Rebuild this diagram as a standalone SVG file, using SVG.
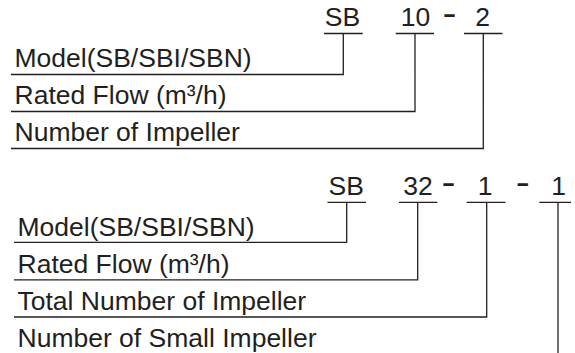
<svg xmlns="http://www.w3.org/2000/svg" width="575" height="353" viewBox="0 0 575 353">
<style>
text{font-family:"Liberation Sans",Arial,sans-serif;font-size:26.5px;fill:#231f20}
.c{text-anchor:middle}
.d{font-weight:bold;font-size:22px;text-anchor:middle}
.ln{stroke:#231f20;stroke-width:1.3;fill:none}
</style>
<rect width="575" height="353" fill="#fff"/>
<g id="code1">
<text class="c" x="342.5" y="26">SB</text>
<text class="c" x="415.5" y="26">10</text>
<text class="d" transform="translate(449.5,20.8) scale(1.85,1)">-</text>
<text class="c" x="482.5" y="26">2</text>
</g>
<g id="labels1">
<text x="14.5" y="67">Model(SB/SBI/SBN)</text>
<text x="14.5" y="104">Rated Flow (m³/h)</text>
<text x="14.5" y="141">Number of Impeller</text>
</g>
<g id="code2">
<text class="c" x="346.3" y="195">SB</text>
<text class="c" x="418" y="195">32</text>
<text class="d" transform="translate(448.5,190.3) scale(1.85,1)">-</text>
<text class="c" x="485.2" y="195">1</text>
<text class="d" transform="translate(522.8,190.3) scale(1.85,1)">-</text>
<text class="c" x="558.5" y="195">1</text>
</g>
<g id="labels2">
<text x="17.5" y="236">Model(SB/SBI/SBN)</text>
<text x="17.5" y="273">Rated Flow (m³/h)</text>
<text x="17.5" y="310">Total Number of Impeller</text>
<text x="17.5" y="347">Number of Small Impeller</text>
</g>
<g id="connectors">
<path class="ln" d="M324 33.5H362.7M395.7 33.5H434M464 33.5H502.5"/>
<path class="ln" d="M343.3 33.5V74.5H11M415 33.5V111.5H11M483.3 33.5V148.5H11"/>
<path class="ln" d="M327.5 202.3H366M399 202.3H437.3M466.7 202.3H505.5M539.3 202.3H571"/>
<path class="ln" d="M346.7 202.3V242.3H14M417.7 202.3V279.8H14M486.7 202.3V317H14M558 202.3V353"/>
</g>
</svg>
